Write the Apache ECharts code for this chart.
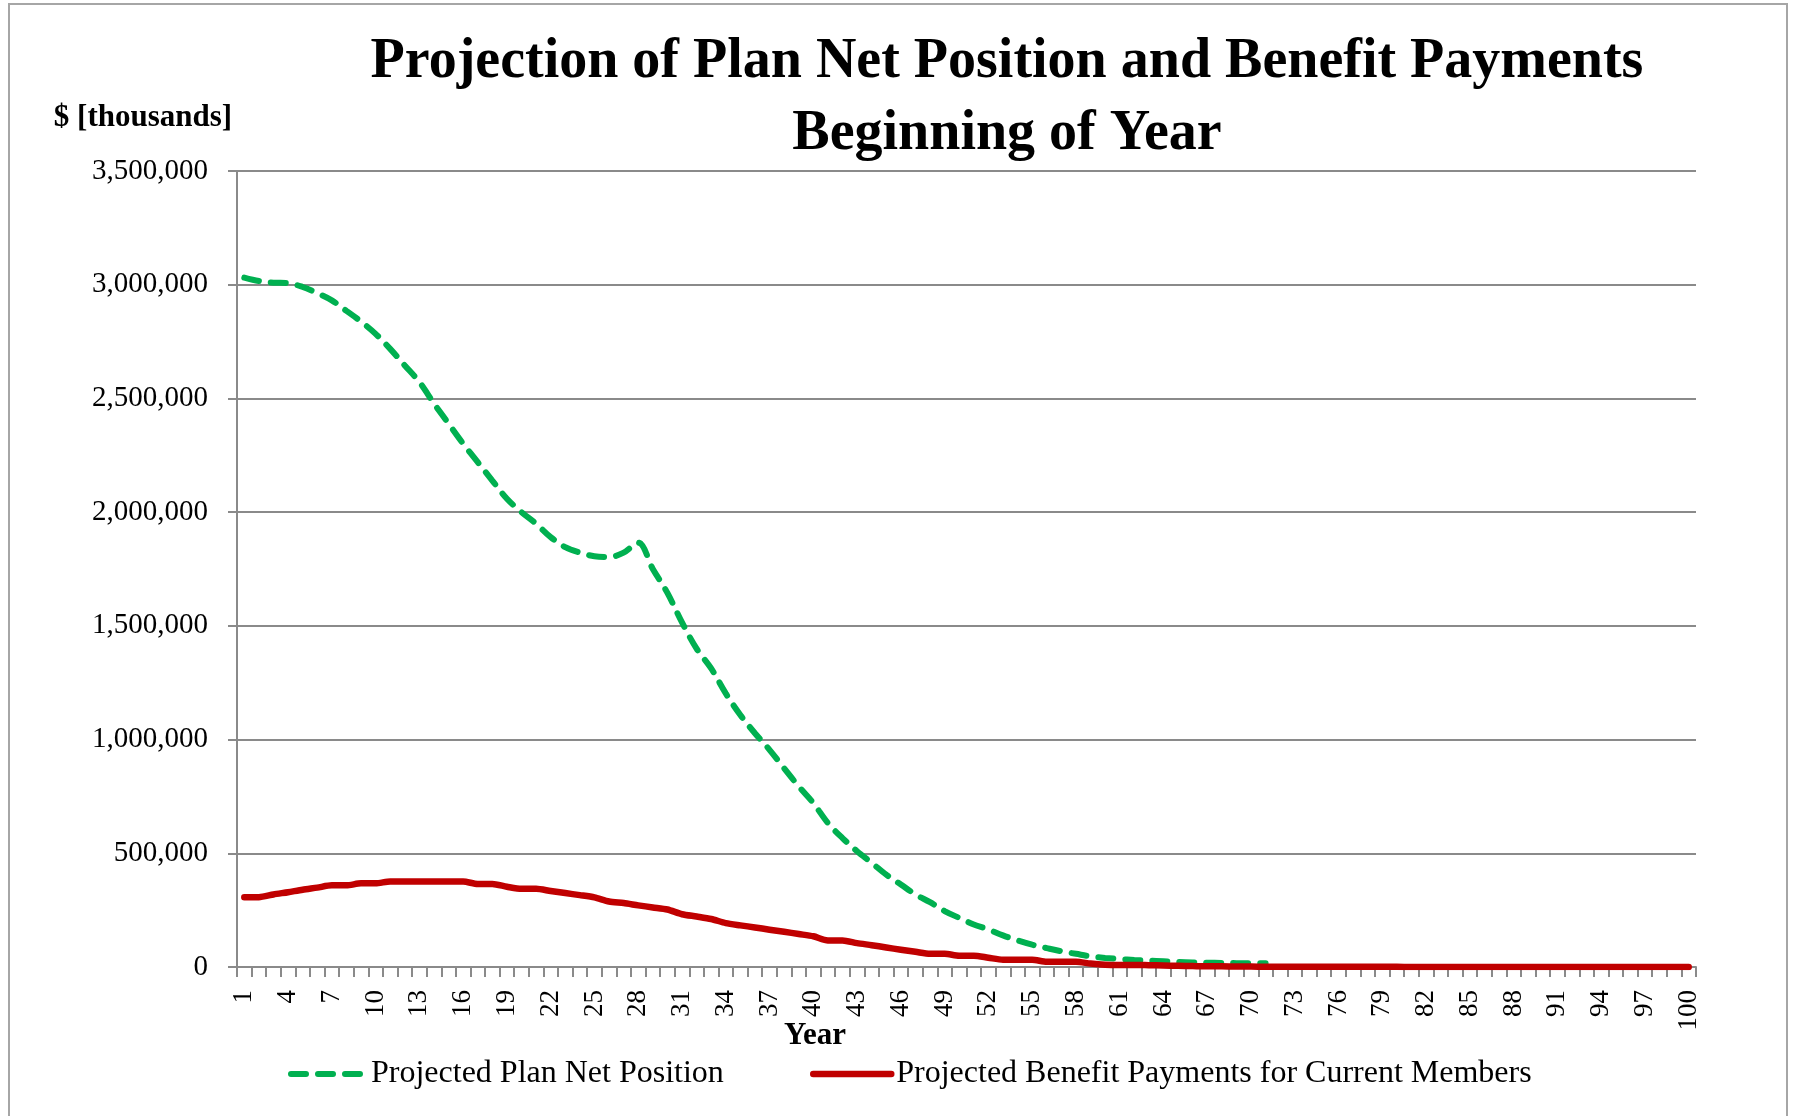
<!DOCTYPE html>
<html>
<head>
<meta charset="utf-8">
<script src="https://cdn.jsdelivr.net/npm/echarts@6/dist/echarts.min.js"></script>
<style>
  html, body { margin: 0; padding: 0; background: #fff; }
  #chart { width: 1794px; height: 1116px; }
</style>
</head>
<body>
<div id="chart"></div>
<script>
// Projection years 1..100
const years = Array.from({ length: 100 }, (_, i) => String(i + 1));

// Projected Plan Net Position, $ thousands (years 1..71, then no value)
const netPosition = [
  3031000, 3016000, 3009000, 3007000, 2990000, 2963000, 2931000, 2885000, 2838000, 2784000,
  2718000, 2645000, 2572000, 2478000, 2389000, 2301000, 2220000, 2139000, 2059000, 2000000,
  1949000, 1890000, 1846000, 1822000, 1806000, 1803000, 1822000, 1866000, 1750000, 1645000,
  1515000, 1400000, 1313000, 1203000, 1108000, 1028000, 955000, 874000, 794000, 721000,
  633000, 567000, 509000, 458000, 406000, 363000, 319000, 285000, 246000, 216000,
  187000, 165000, 139000, 117000, 98000, 83000, 69000, 58000, 47000, 40000,
  35000, 31000, 28000, 25000, 22000, 20000, 19000, 18000, 17000, 17000,
  16000, '-', '-', '-', '-', '-', '-', '-', '-', '-',
  '-', '-', '-', '-', '-', '-', '-', '-', '-', '-',
  '-', '-', '-', '-', '-', '-', '-', '-', '-', '-'
];

// Projected Benefit Payments for Current Members, $ thousands
const benefitPayments = [
  307000, 307000, 319000, 329000, 340000, 349000, 359000, 359000, 368000, 368000,
  376000, 376000, 376000, 376000, 376000, 376000, 365000, 365000, 353000, 344000,
  344000, 334000, 325000, 316000, 306000, 288000, 281000, 271000, 262000, 253000,
  232000, 222000, 211000, 193000, 183000, 174000, 164000, 155000, 145000, 135000,
  117000, 117000, 105000, 96000, 86000, 76000, 67000, 58000, 58000, 50000,
  50000, 41000, 32000, 32000, 32000, 23000, 23000, 23000, 15000, 10000,
  9000, 9000, 8000, 7000, 5000, 4000, 3000, 3000, 2000, 2000,
  1000, 1000, 1000, 1000, 1000, 1000, 1000, 1000, 1000, 1000,
  0, 0, 0, 0, 0, 0, 0, 0, 0, 0,
  0, 0, 0, 0, 0, 0, 0, 0, 0, 0
];

const seriesNames = ['Projected Plan Net Position', 'Projected Benefit Payments for Current Members'];
const titleLines = ['Projection of Plan Net Position and Benefit Payments', 'Beginning of Year'];

const SERIF = '"Liberation Serif", "Times New Roman", serif';
const GRID_GRAY = '#8a8a8a';
const GREEN = '#00b050';
const RED = '#c00000';

const greenLine = { color: GREEN, width: 6, type: [15, 12], cap: 'round' };
const redLine = { color: RED, width: 6.5, cap: 'round', join: 'round' };
const legendText = { fontFamily: SERIF, fontSize: 32, color: '#000' };

const chart = echarts.init(document.getElementById('chart'), null, { renderer: 'canvas' });

chart.setOption({
  backgroundColor: '#ffffff',
  animation: false,
  graphic: [
    {
      type: 'rect',
      shape: { x: 9, y: 4, width: 1778, height: 1130 },
      style: { fill: 'none', stroke: '#a6a6a6', lineWidth: 2 },
      silent: true
    },
    {
      type: 'text', x: 1007, y: 63,
      style: { text: titleLines[0], font: 'bold 56px ' + SERIF, fill: '#000', textAlign: 'center', textVerticalAlign: 'middle' }
    },
    {
      type: 'text', x: 1007, y: 135,
      style: { text: titleLines[1], font: 'bold 56px ' + SERIF, fill: '#000', textAlign: 'center', textVerticalAlign: 'middle' }
    },
    {
      type: 'text', x: 143, y: 118,
      style: { text: '$ [thousands]', font: 'bold 31px ' + SERIF, fill: '#000', textAlign: 'center', textVerticalAlign: 'middle' }
    },
    {
      type: 'text', x: 815, y: 1036,
      style: { text: 'Year', font: 'bold 31px ' + SERIF, fill: '#000', textAlign: 'center', textVerticalAlign: 'middle' }
    }
  ],
  grid: { left: 237, right: 98, top: 171, bottom: 149, containLabel: false },
  legend: [
    {
      left: 283, top: 1053,
      itemWidth: 75, itemHeight: 16,
      data: [seriesNames[0]],
      itemStyle: { opacity: 0 },
      lineStyle: greenLine,
      textStyle: legendText
    },
    {
      left: 805, top: 1053,
      itemWidth: 78, itemHeight: 16,
      data: [seriesNames[1]],
      itemStyle: { opacity: 0 },
      lineStyle: redLine,
      textStyle: legendText
    }
  ],
  xAxis: {
    type: 'category',
    data: years,
    boundaryGap: true,
    axisLine: { lineStyle: { color: GRID_GRAY, width: 2 } },
    axisTick: { show: true, interval: 0, length: 10, lineStyle: { color: GRID_GRAY, width: 2 } },
    axisLabel: {
      interval: 2,
      rotate: 90,
      margin: 23,
      fontFamily: SERIF,
      fontSize: 27,
      color: '#000'
    },
    splitLine: { show: false }
  },
  yAxis: {
    type: 'value',
    min: 0,
    max: 3500000,
    interval: 500000,
    axisLine: { show: true, lineStyle: { color: GRID_GRAY, width: 2 } },
    axisTick: { show: true, length: 9, lineStyle: { color: GRID_GRAY, width: 2 } },
    axisLabel: {
      margin: 29,
      fontFamily: SERIF,
      fontSize: 29,
      color: '#000',
      formatter: v => v.toLocaleString('en-US')
    },
    splitLine: { lineStyle: { color: GRID_GRAY, width: 2 } }
  },
  series: [
    {
      name: seriesNames[0],
      type: 'line',
      data: netPosition,
      smooth: 0.35,
      symbol: 'none',
      connectNulls: false,
      itemStyle: { color: GREEN },
      lineStyle: greenLine
    },
    {
      name: seriesNames[1],
      type: 'line',
      data: benefitPayments,
      smooth: 0.25,
      symbol: 'none',
      itemStyle: { color: RED },
      lineStyle: redLine
    }
  ]
});
</script>
</body>
</html>
